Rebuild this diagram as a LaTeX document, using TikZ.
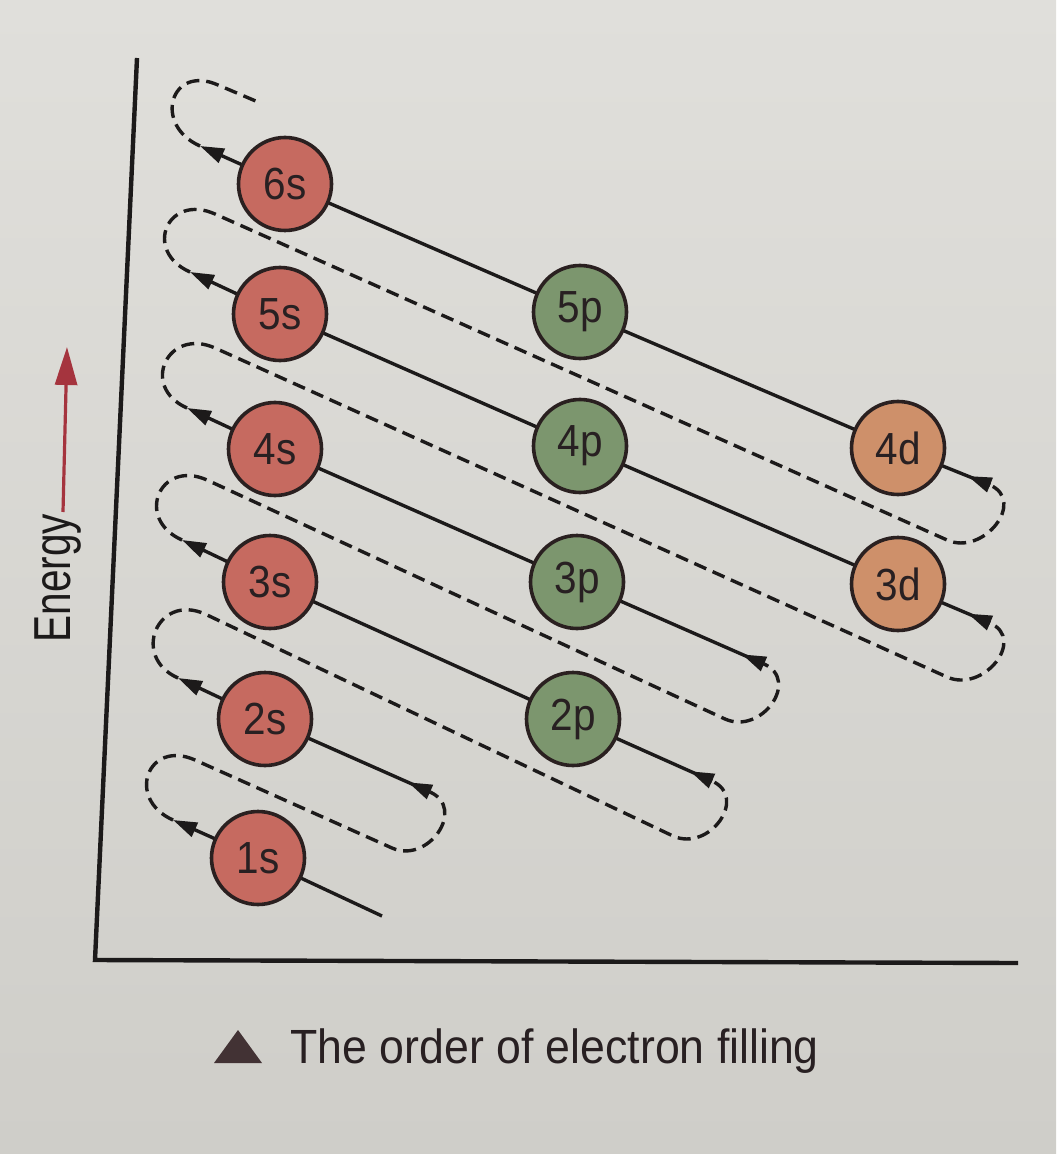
\documentclass[tikz,border=0pt]{standalone}
\usepackage{fontspec}
\setmainfont{Liberation Sans}
\newfontfamily\labfont[FakeStretch=0.9]{Liberation Sans}
\newfontfamily\enfont[FakeStretch=0.78]{Liberation Sans}
\newfontfamily\capfont[FakeStretch=0.93]{Liberation Sans}
\usetikzlibrary{arrows.meta,calc}
\pgfdeclarelayer{back}
\pgfsetlayers{back,main}
\definecolor{paperA}{RGB}{224,223,219}
\definecolor{paperB}{RGB}{207,206,201}
\definecolor{sfill}{RGB}{198,106,96}
\definecolor{pfill}{RGB}{124,150,110}
\definecolor{dfill}{RGB}{206,144,106}
\definecolor{rim}{RGB}{42,32,32}
\definecolor{ink}{RGB}{28,26,26}
\definecolor{txt}{RGB}{40,32,34}
\definecolor{redarrow}{RGB}{165,52,62}
\definecolor{tri}{RGB}{66,50,52}
\begin{document}
\begin{tikzpicture}[x=0.5pt,y=-0.5pt,
  orb/.style={circle, draw=rim, line width=1.8pt, minimum size=46.5pt, inner sep=0pt, text=txt, font=\labfont\fontsize{22.5}{22.5}\selectfont},
  sorb/.style={orb, fill=sfill},
  porb/.style={orb, fill=pfill},
  dorb/.style={orb, fill=dfill},
  solidln/.style={draw=ink, line width=1.7pt},
  dashln/.style={draw=ink, line width=1.7pt, dash pattern=on 6.5pt off 3.5pt},
  tipE/.style={-{Triangle[length=12pt,width=7.5pt]}},
  axisln/.style={draw=ink, line width=2.2pt, line join=miter},
]
\begin{pgfonlayer}{back}
  \shade[top color=paperA, bottom color=paperB] (0,0) rectangle (1056,1154);
\end{pgfonlayer}
\useasboundingbox (0,0) rectangle (1056,1154);

% axes
\coordinate (ax1) at (137,58);
\coordinate (ax0) at (95,960);
\coordinate (ax2) at (1018,963);
\draw[axisln] (ax1) -- (ax0) -- (ax2);

% orbitals
\node[sorb] (s1) at (258,858) {1s};
\node[sorb] (s2) at (265,719) {2s};
\node[sorb] (s3) at (270,582) {3s};
\node[sorb] (s4) at (275,449) {4s};
\node[sorb] (s5) at (280,314) {5s};
\node[sorb] (s6) at (285,184) {6s};
\node[porb] (p2) at (573,719) {2p};
\node[porb] (p3) at (577,582) {3p};
\node[porb] (p4) at (580,446) {4p};
\node[porb] (p5) at (580,312) {5p};
\node[dorb] (d3) at (898,584) {3d};
\node[dorb] (d4) at (898,448) {4d};

% path points
\coordinate (S1) at (382,916);
\coordinate (E1) at (173,820);
\coordinate (A1) at (195,760);
\coordinate (B1) at (392,848);
\coordinate (S2) at (430,792);
\coordinate (E2) at (178,678);
\coordinate (A2) at (205,614);
\coordinate (B2) at (673,836);
\coordinate (S3) at (712,781);
\coordinate (E3) at (182,540);
\coordinate (A3) at (207,480);
\coordinate (B3) at (725,719);
\coordinate (S4) at (764,664);
\coordinate (E4) at (187,408);
\coordinate (A4) at (215,348);
\coordinate (B4) at (947,677);
\coordinate (S5) at (990,623);
\coordinate (E5) at (190,272);
\coordinate (A5) at (215,214);
\coordinate (B5) at (947,540);
\coordinate (S6) at (990,485);
\coordinate (E6) at (200,146);
\coordinate (A6) at (218,85);
\coordinate (Z6) at (258,102);

\begin{pgfonlayer}{back}
  \draw[solidln,tipE] (S1) -- (s1.center) -- (E1);
  \draw[solidln,tipE] (S2) -- (s2.center) -- (E2);
  \draw[solidln,tipE] (S3) -- (p2.center) -- (s3.center) -- (E3);
  \draw[solidln,tipE] (S4) -- (p3.center) -- (s4.center) -- (E4);
  \draw[solidln,tipE] (S5) -- (d3.center) -- (p4.center) -- (s5.center) -- (E5);
  \draw[solidln,tipE] (S6) -- (d4.center) -- (p5.center) -- (s6.center) -- (E6);
  \foreach \a/\b in {S2/s2,S3/p2,S4/p3,S5/d3,S6/d4}
    \draw[solidln,tipE] (\a) -- ($(\a)!12pt!(\b.center)$);
  \draw[dashln] (E1) .. controls +(204:52) and +(204:52) .. (A1) -- (B1) .. controls +(24:40) and +(24:40) .. (S2);
  \draw[dashln] (E2) .. controls +(204:52) and +(204:52) .. (A2) -- (B2) .. controls +(24:40) and +(24:40) .. (S3);
  \draw[dashln] (E3) .. controls +(204:52) and +(204:52) .. (A3) -- (B3) .. controls +(24:40) and +(24:40) .. (S4);
  \draw[dashln] (E4) .. controls +(204:52) and +(204:52) .. (A4) -- (B4) .. controls +(24:40) and +(24:40) .. (S5);
  \draw[dashln] (E5) .. controls +(204:52) and +(204:52) .. (A5) -- (B5) .. controls +(24:40) and +(24:40) .. (S6);
  \draw[dashln] (E6) .. controls +(204:52) and +(204:52) .. (A6) -- (Z6);
\end{pgfonlayer}

% energy label
\node[rotate=90, anchor=base, inner sep=0pt, text=ink, font=\enfont\fontsize{26}{26}\selectfont] (energy) at (70,578) {Energy};
\coordinate (en1) at (63,512);
\coordinate (en2) at (67,347);
\draw[draw=redarrow, line width=1.6pt, -{Triangle[length=19pt,width=11pt]}] (en1) -- (en2);

% caption
\fill[tri] (214,1063) -- (262,1063) -- (238,1030) -- cycle;
\node[anchor=base west, inner sep=0pt, text=txt, font=\capfont\fontsize{24}{24}\selectfont] (cap) at (290,1063) {The order of electron filling};
\end{tikzpicture}
\end{document}
